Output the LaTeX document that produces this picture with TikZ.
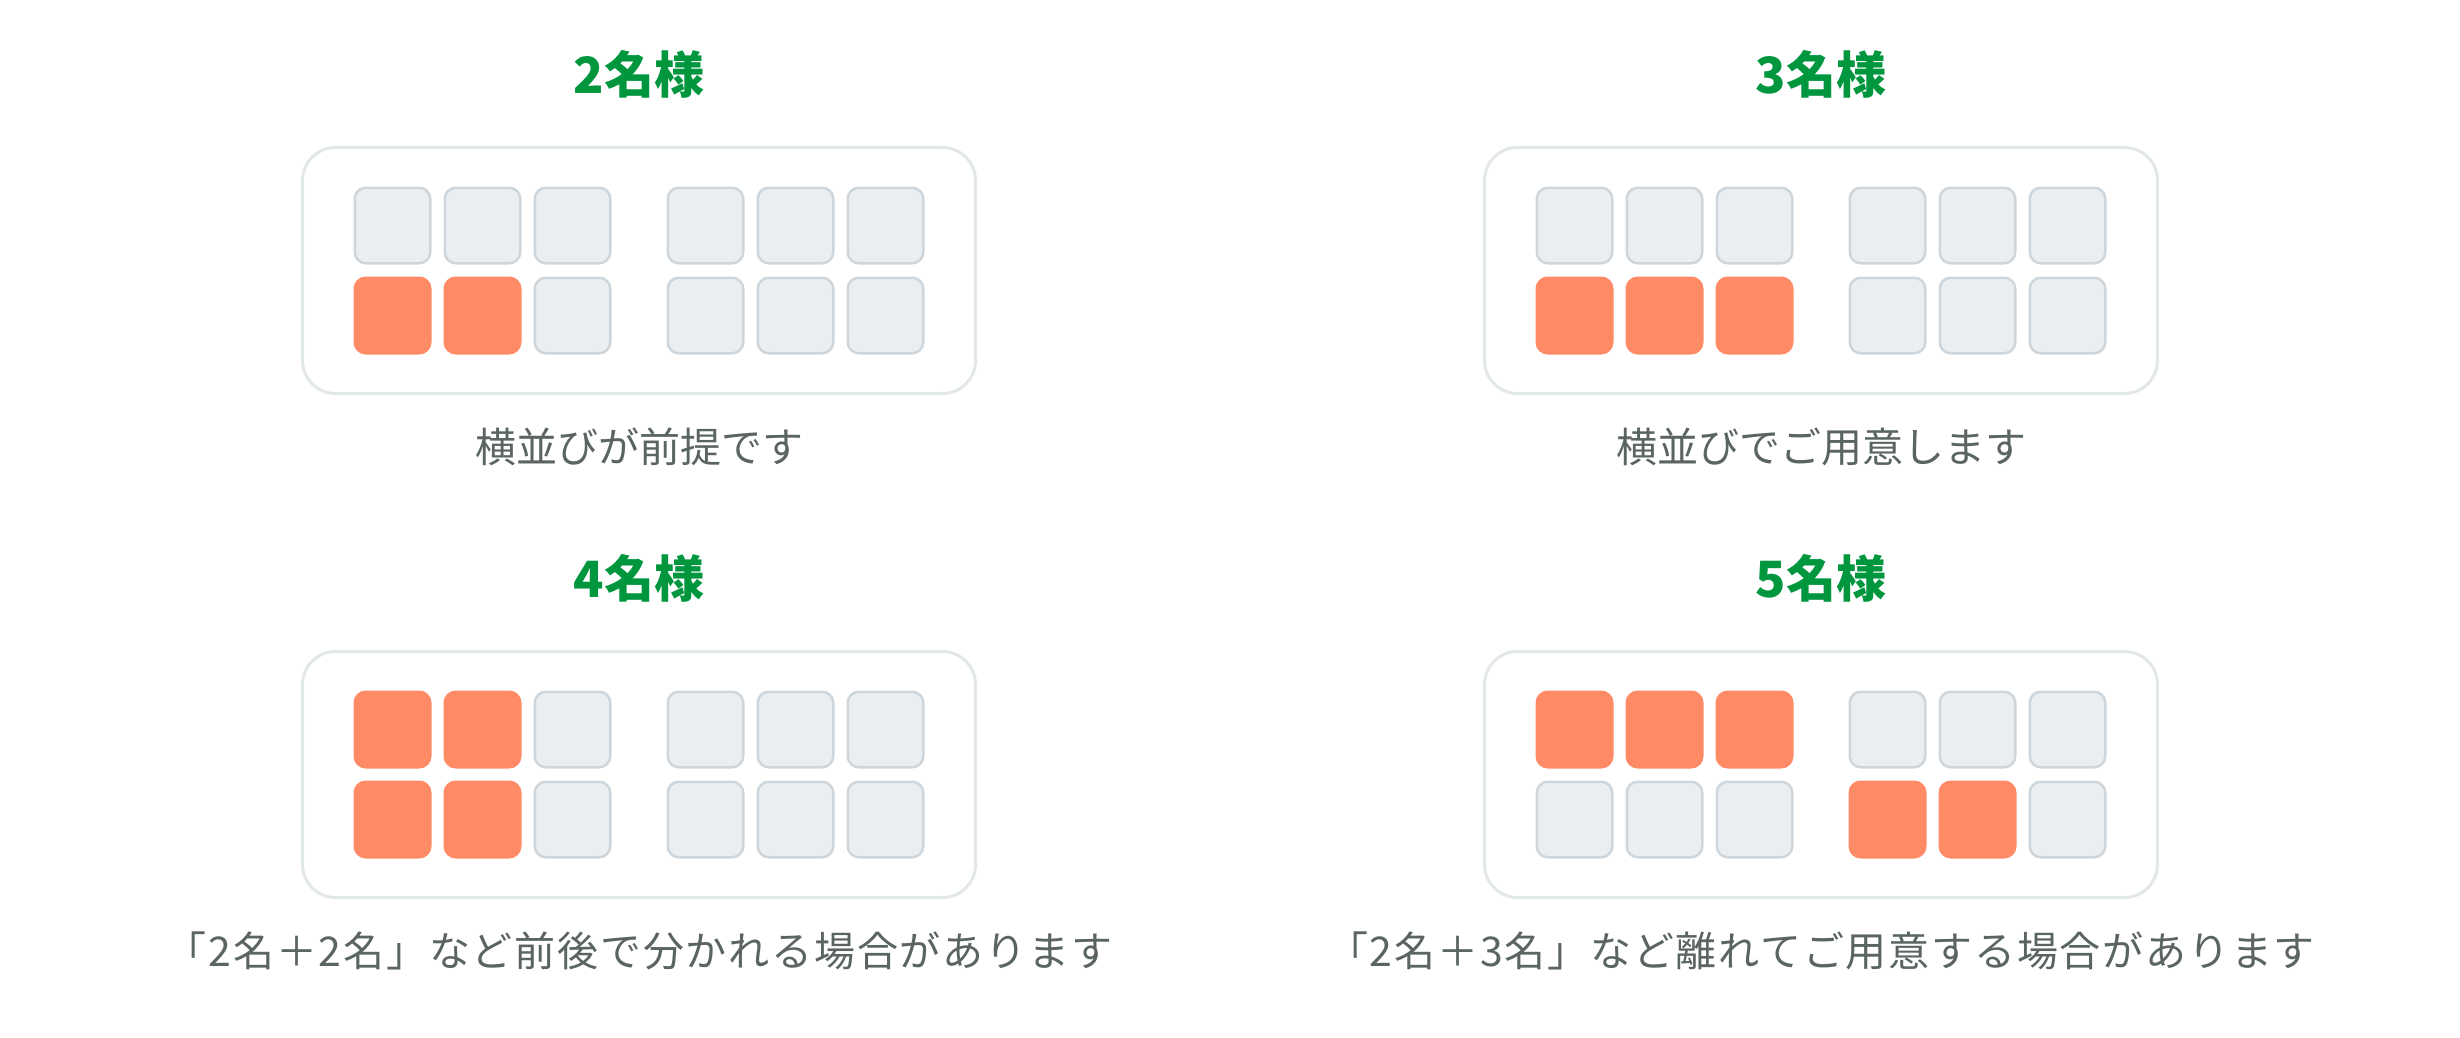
\documentclass[tikz,border=0pt]{standalone}
\usepackage{fontspec}
\usepackage{xcolor}
\usepackage{tikz}
\setmainfont{Noto Sans CJK JP}
\definecolor{titlegreen}{RGB}{0, 150, 62}
\definecolor{seatorange}{RGB}{255, 138, 102}
\definecolor{seatfill}{RGB}{234, 238, 241}
\definecolor{seatline}{RGB}{206, 214, 219}
\definecolor{panelline}{RGB}{226, 232, 229}
\definecolor{textmuted}{RGB}{90, 101, 98}

\tikzset{
    panel/.style={draw=panelline, line width=3pt, rounded corners=33pt, minimum width=673pt, minimum height=246pt, inner sep=0pt},
    seat/.style={draw=seatline, fill=seatfill, line width=2.5pt, rounded corners=11pt, minimum size=75.5pt, inner sep=0pt},
    taken/.style={draw=seatorange, fill=seatorange},
    heading/.style={text=titlegreen, font=\fontsize{50pt}{60pt}\selectfont\bfseries},
    note/.style={text=textmuted, font=\fontsize{41pt}{50pt}\selectfont},
    longnote/.style={note, font=\fontsize{41pt}{50pt}\selectfont\addfontfeatures{LetterSpace=4.4}},
    % seats that are booked
    p1-21/.style=taken, p1-22/.style=taken,
    p2-21/.style=taken, p2-22/.style=taken, p2-23/.style=taken,
    p3-11/.style=taken, p3-12/.style=taken, p3-21/.style=taken, p3-22/.style=taken,
    p4-11/.style=taken, p4-12/.style=taken, p4-13/.style=taken, p4-24/.style=taken, p4-25/.style=taken
}

\begin{document}
\begin{tikzpicture}[x=1pt, y=-1pt]
    \useasboundingbox (0,0) rectangle (2460,1038);
    \foreach \name/\cx/\cy/\head/\kind/\text in {
        p1/639/270.5/2名様/note/横並びが前提です,
        p2/1821/270.5/3名様/note/横並びでご用意します,
        p3/639/774.5/4名様/longnote/「2名＋2名」など前後で分かれる場合があります,
        p4/1821/774.5/5名様/longnote/「2名＋3名」など離れてご用意する場合があります} {
        \node[panel] (\name) at (\cx, \cy) {};
        \node[heading] (\name-head) at (\cx, \cy-196.5) {\head};
        \node[\kind] (\name-note) at (\cx, \cy+176.5) {\text};
        \foreach \col/\dx in {1/-246.5, 2/-156.5, 3/-66.5, 4/66.5, 5/156.5, 6/246.5}
            \foreach \row/\dy in {1/-45, 2/45}
                \node[seat, \name-\row\col/.try] (\name-\row\col) at (\cx+\dx, \cy+\dy) {};
    }
\end{tikzpicture}
\end{document}
